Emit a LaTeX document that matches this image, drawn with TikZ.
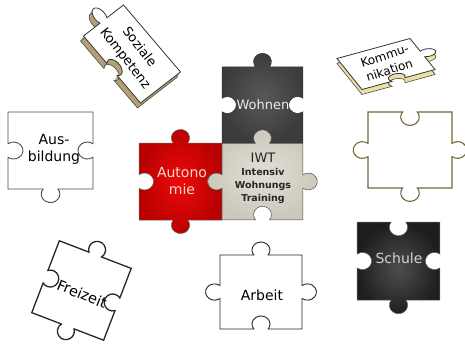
\documentclass[tikz,border=0pt]{standalone}
\usepackage{fontspec}
\setmainfont{DejaVu Sans}
\usepackage{tikz}
\usetikzlibrary{arrows}

\definecolor{darkin}{HTML}{585858}
\definecolor{darkout}{HTML}{3C3C3C}
\definecolor{schulein}{HTML}{4E4E4E}
\definecolor{schuleout}{HTML}{1E1E1E}
\definecolor{redin}{HTML}{EE0A0A}
\definecolor{redout}{HTML}{B80000}
\definecolor{iwtin}{HTML}{E2DFD6}
\definecolor{iwtout}{HTML}{CCC8BB}
\definecolor{sozside}{HTML}{B3A175}
\definecolor{komside}{HTML}{EDE0A6}
\definecolor{olive}{HTML}{76693B}
\definecolor{pinktext}{HTML}{F8D9CE}

% one side of a piece, #1 = direction of travel
\newcommand{\tabside}[1]{-- ++(#1:0.412) arc[start angle=143+#1, end angle=397+#1, radius=0.11] -- ++(#1:0.412)}
\newcommand{\blankside}[1]{-- ++(#1:0.412) arc[start angle=217+#1, end angle=-37+#1, radius=0.11] -- ++(#1:0.412)}
\newcommand{\flatside}[1]{-- ++(#1:1)}
% bottom, right, top, left
\newcommand{\puzzlepiece}[4]{(-0.5,-0.5) #1{0} #2{90} #3{180} #4{270} -- cycle}

\begin{document}
\begin{tikzpicture}[x=1pt, y=1pt,
  piecetext/.style={font=\fontsize{14}{17}\selectfont, align=center},
  whitepiece/.style={fill=white, draw=black!85, line width=0.9pt},
  sozframe/.style={cm={57,-67,40,31,(132,289)}},
  komframe/.style={cm={73,20,-25,31,(386,279)}}]

\useasboundingbox (0,0) rectangle (465,343);

% Soziale Kompetenz
\foreach \k in {5,4,...,1}
\fill[sozside, shift={(-0.6*\k,-\k)}, sozframe] \puzzlepiece{\blankside}{\flatside}{\flatside}{\tabside};
\draw[black!70, line width=0.6pt, shift={(-3,-5)}, sozframe] \puzzlepiece{\blankside}{\flatside}{\flatside}{\tabside};
\filldraw[fill=white, draw=black!80, line width=0.8pt, sozframe] \puzzlepiece{\blankside}{\flatside}{\flatside}{\tabside};
\node[piecetext, font=\fontsize{13}{18}\selectfont, rotate=-52] (soziale) at (132,290) {Soziale\\Kompetenz};

% Kommunikation
\foreach \k in {5,4,...,1}
\fill[komside, shift={(0,-\k)}, komframe] \puzzlepiece{\blankside}{\tabside}{\flatside}{\flatside};
\draw[black!70, line width=0.6pt, shift={(0,-5)}, komframe] \puzzlepiece{\blankside}{\tabside}{\flatside}{\flatside};
\filldraw[fill=white, draw=black!80, line width=0.8pt, komframe] \puzzlepiece{\blankside}{\tabside}{\flatside}{\flatside};
\node[piecetext, font=\fontsize{12}{15}\selectfont, rotate=18] (kommunikation) at (387,280) {Kommu-\\nikation};

% Ausbildung
\begin{scope}[shift={(50.5,192.5)}, xscale=85, yscale=77]
\filldraw[whitepiece, draw=black!70] \puzzlepiece{\tabside}{\blankside}{\flatside}{\blankside};
\end{scope}
\node[piecetext] (ausbildung) at (54,194) {Aus-\\bildung};

% empty piece on the right
\begin{scope}[shift={(410,193)}, xscale=84, yscale=76]
\filldraw[whitepiece, draw=olive, line width=1.1pt] \puzzlepiece{\tabside}{\tabside}{\blankside}{\tabside};
\end{scope}

% Autonomie
\begin{scope}[shift={(180.5,161.5)}, xscale=83, yscale=77]
\shadedraw[inner color=redin, outer color=redout, draw=black!60, line width=0.5pt] \puzzlepiece{\tabside}{\blankside}{\tabside}{\blankside};
\end{scope}
\node[piecetext, text=pinktext] (autonomie) at (182,162.5) {Autono\\mie};

% Wohnen
\begin{scope}[shift={(262.5,238)}, xscale=81, yscale=76.5]
\shadedraw[inner color=darkin, outer color=darkout, draw=black!80, line width=0.5pt] \puzzlepiece{\blankside}{\blankside}{\tabside}{\blankside};
\end{scope}
\node[piecetext, font=\fontsize{13}{16}\selectfont, text=black!8] (wohnen) at (263,238) {Wohnen};

% IWT
\begin{scope}[shift={(262.5,161.5)}, xscale=81, yscale=76.5]
\shadedraw[inner color=iwtin, outer color=iwtout, draw=black!70, line width=0.5pt] \puzzlepiece{\blankside}{\tabside}{\tabside}{\tabside};
\end{scope}
\node[align=center, text=black!85, font=\bfseries\fontsize{9.5}{13}\selectfont] (iwt) at (263,165)
{{\mdseries\fontsize{13}{16}\selectfont IWT}\\Intensiv\\Wohnungs\\Training};

% Freizeit
\begin{scope}[shift={(81.5,52.5)}, rotate=-21, scale=77]
\filldraw[whitepiece, line width=1.3pt] \puzzlepiece{\tabside}{\blankside}{\tabside}{\blankside};
\end{scope}
\node[piecetext, font=\fontsize{14.5}{17}\selectfont, rotate=-22] (freizeit) at (82,49) {Freizeit};

% Arbeit
\begin{scope}[shift={(261,51)}, xscale=82, yscale=74]
\filldraw[whitepiece] \puzzlepiece{\blankside}{\tabside}{\tabside}{\tabside};
\end{scope}
\node[piecetext] (arbeit) at (262,48) {Arbeit};

% Schule
\begin{scope}[shift={(398.5,82)}, xscale=83, yscale=78]
\shadedraw[inner color=schulein, outer color=schuleout, draw=black!60, line width=0.5pt] \puzzlepiece{\tabside}{\blankside}{\blankside}{\blankside};
\end{scope}
\node[piecetext, text=black!18] (schule) at (399,85) {Schule};

\end{tikzpicture}
\end{document}
